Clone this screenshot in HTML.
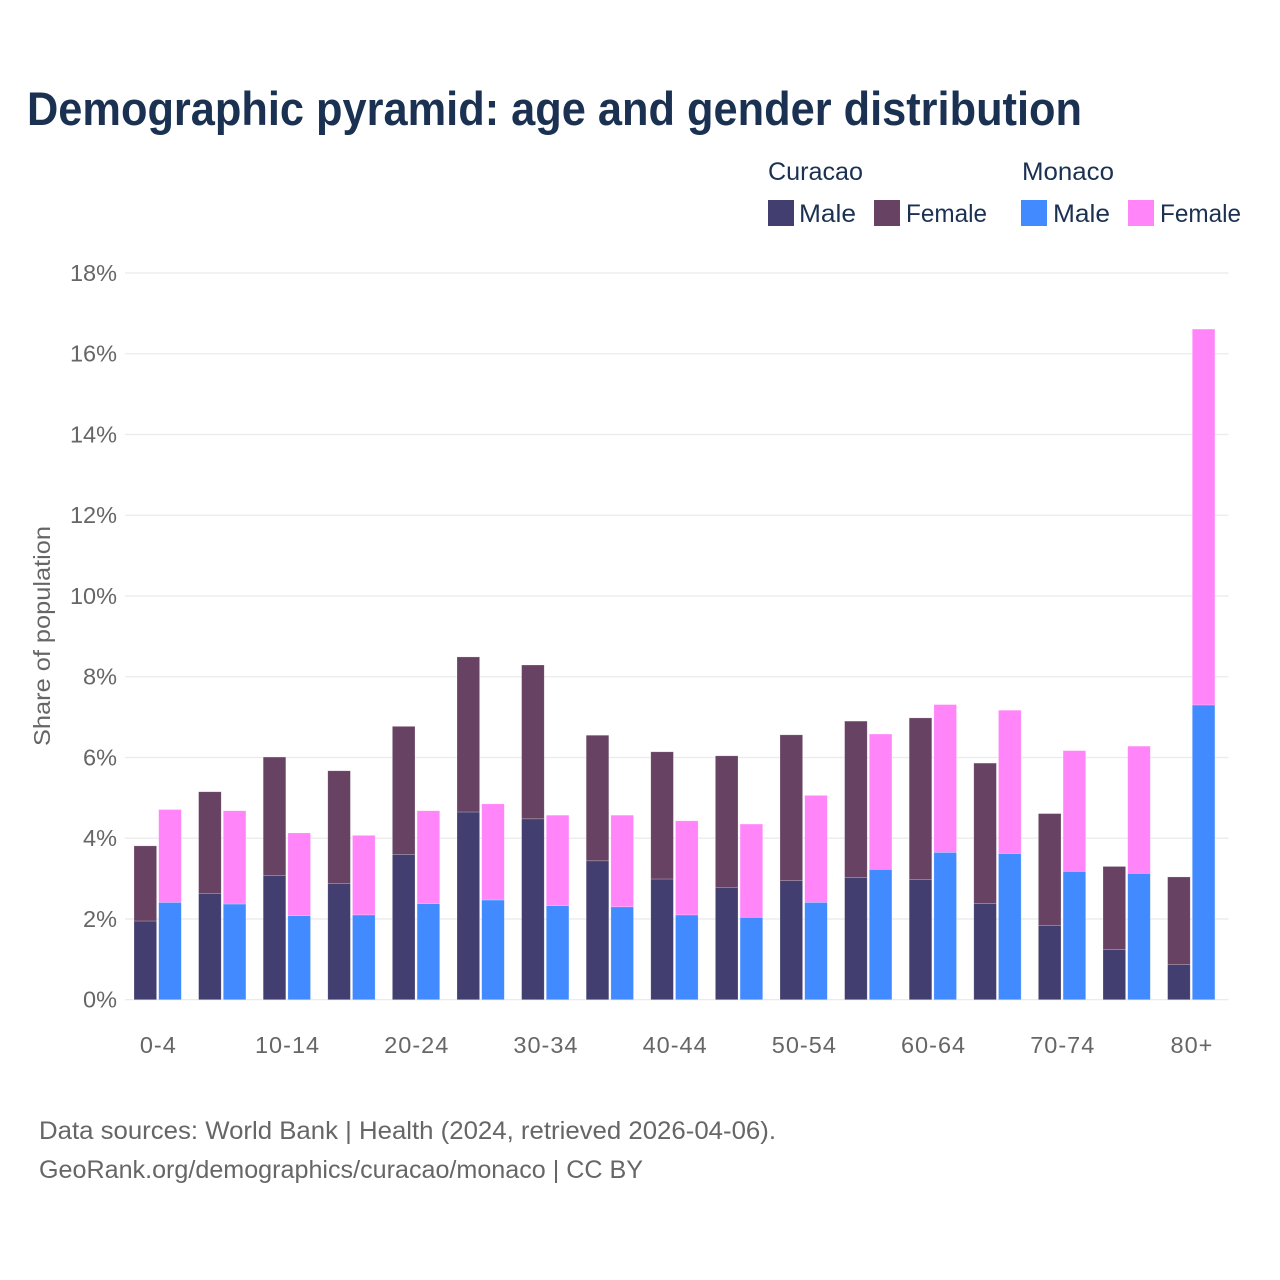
<!DOCTYPE html>
<html>
<head>
<meta charset="utf-8">
<title>Demographic pyramid</title>
<style>
html,body{margin:0;padding:0;background:#fff;width:1280px;height:1280px;overflow:hidden}
svg{display:block}
text{font-family:"Liberation Sans",sans-serif}
.head{fill:#1a3152}
.tick{fill:#666666;font-size:23.5px}
.foot{fill:#666666;font-size:25px}
</style>
</head>
<body>
<svg id="chart" width="1280" height="1280" viewBox="0 0 1280 1280" xmlns="http://www.w3.org/2000/svg">
<text class="head" x="27" y="125" font-size="47" font-weight="700" textLength="1055" lengthAdjust="spacingAndGlyphs">Demographic pyramid: age and gender distribution</text>

<g>
<text class="head" x="768" y="180" font-size="25" textLength="95" lengthAdjust="spacingAndGlyphs">Curacao</text>
<text class="head" x="1022" y="180" font-size="25" textLength="92" lengthAdjust="spacingAndGlyphs">Monaco</text>
<rect x="768" y="200" width="26" height="26" fill="#423f70"/>
<text class="head" x="799" y="222" font-size="25" textLength="57" lengthAdjust="spacingAndGlyphs">Male</text>
<rect x="874" y="200" width="26" height="26" fill="#674263"/>
<text class="head" x="906" y="222" font-size="25" textLength="81" lengthAdjust="spacingAndGlyphs">Female</text>
<rect x="1021" y="200" width="26" height="26" fill="#418aff"/>
<text class="head" x="1053" y="222" font-size="25" textLength="57" lengthAdjust="spacingAndGlyphs">Male</text>
<rect x="1128" y="200" width="26" height="26" fill="#ff85f9"/>
<text class="head" x="1160" y="222" font-size="25" textLength="81" lengthAdjust="spacingAndGlyphs">Female</text>
</g>

<g id="grid"></g>
<g id="yticks"></g>
<g id="bars"></g>
<g id="xticks"></g>

<text fill="#666666" font-size="23.5" transform="translate(50,746) rotate(-90)" x="0" y="0" textLength="220" lengthAdjust="spacingAndGlyphs">Share of population</text>

<text class="foot" x="39" y="1139" textLength="737" lengthAdjust="spacingAndGlyphs">Data sources: World Bank | Health (2024, retrieved 2026-04-06).</text>
<text class="foot" x="39" y="1178" textLength="604" lengthAdjust="spacingAndGlyphs">GeoRank.org/demographics/curacao/monaco | CC BY</text>
</svg>

<script>
var ageGroups = ["0-4","5-9","10-14","15-19","20-24","25-29","30-34","35-39","40-44","45-49","50-54","55-59","60-64","65-69","70-74","75-79","80+"];
var xTickLabels = ["0-4","10-14","20-24","30-34","40-44","50-54","60-64","70-74","80+"];
var yTickValues = [0,2,4,6,8,10,12,14,16,18];
var curacaoMale = [1.95,2.63,3.08,2.88,3.60,4.65,4.48,3.44,2.99,2.78,2.95,3.03,2.98,2.38,1.84,1.24,0.87];
var curacaoFemale = [1.86,2.52,2.93,2.79,3.17,3.84,3.81,3.11,3.15,3.26,3.61,3.87,4.00,3.48,2.77,2.06,2.17];
var monacoMale = [2.41,2.37,2.08,2.10,2.38,2.47,2.33,2.30,2.10,2.04,2.41,3.23,3.65,3.62,3.18,3.13,7.30];
var monacoFemale = [2.30,2.31,2.05,1.97,2.30,2.38,2.24,2.27,2.33,2.31,2.65,3.35,3.66,3.55,2.99,3.15,9.31];

var NS = "http://www.w3.org/2000/svg";
var plotLeft = 125, plotRight = 1228.5;
var yZero = 999.7, yTop = 273, yMax = 18;
var firstBarLeft = 134, bandStep = 64.6, barWidth = 22.6, barGap = 2.1;

function yScale(v){ return yZero - (v / yMax) * (yZero - yTop); }
function xScale(i, slot){ return firstBarLeft + i * bandStep + slot * (barWidth + barGap); }
function bandCenter(i){ return firstBarLeft + i * bandStep + barWidth + barGap / 2; }
function make(tag, parent, attrs){
  var el = document.createElementNS(NS, tag);
  for (var k in attrs) el.setAttribute(k, attrs[k]);
  parent.appendChild(el);
  return el;
}

var grid = document.getElementById("grid");
var yticks = document.getElementById("yticks");
yTickValues.forEach(function(v){
  var y = yScale(v);
  var line = make("line", grid, {x1: plotLeft, x2: plotRight, y1: y, y2: y, stroke: "#ebebeb", "stroke-width": 1.3});
  
  
  var t = make("text", yticks, {x: 117, y: y + 8, "text-anchor": "end", "class": "tick"});
  
  
  t.textContent = v + "%";
});

var bars = document.getElementById("bars");
function drawStack(i, slot, lower, upper, lowerColor, upperColor, country){
  var x = xScale(i, slot);
  var yLower = yScale(lower), yUpper = yScale(lower + upper);
  var a = make("rect", bars, {x: x, y: yLower, width: barWidth, height: yZero - yLower, fill: lowerColor, stroke: "#ffffff", "stroke-opacity": 0.35, "stroke-width": 0.6});
  
  
  a.setAttribute('data-series', country + '-male');
  var b = make("rect", bars, {x: x, y: yUpper, width: barWidth, height: yLower - yUpper, fill: upperColor, stroke: "#ffffff", "stroke-opacity": 0.35, "stroke-width": 0.6});
  
  
  b.setAttribute('data-series', country + '-female');
}
ageGroups.forEach(function(g, i){
  drawStack(i, 0, curacaoMale[i], curacaoFemale[i], "#423f70", "#674263", "curacao");
  drawStack(i, 1, monacoMale[i], monacoFemale[i], "#418aff", "#ff85f9", "monaco");
});

var xticks = document.getElementById("xticks");
xTickLabels.forEach(function(label){
  var i = ageGroups.indexOf(label);
  var t = make("text", xticks, {x: bandCenter(i) + 0.7, y: 1053, "text-anchor": "middle", "class": "tick", "letter-spacing": "1"});
  
  
  t.textContent = label;
});
</script>
</body>
</html>
